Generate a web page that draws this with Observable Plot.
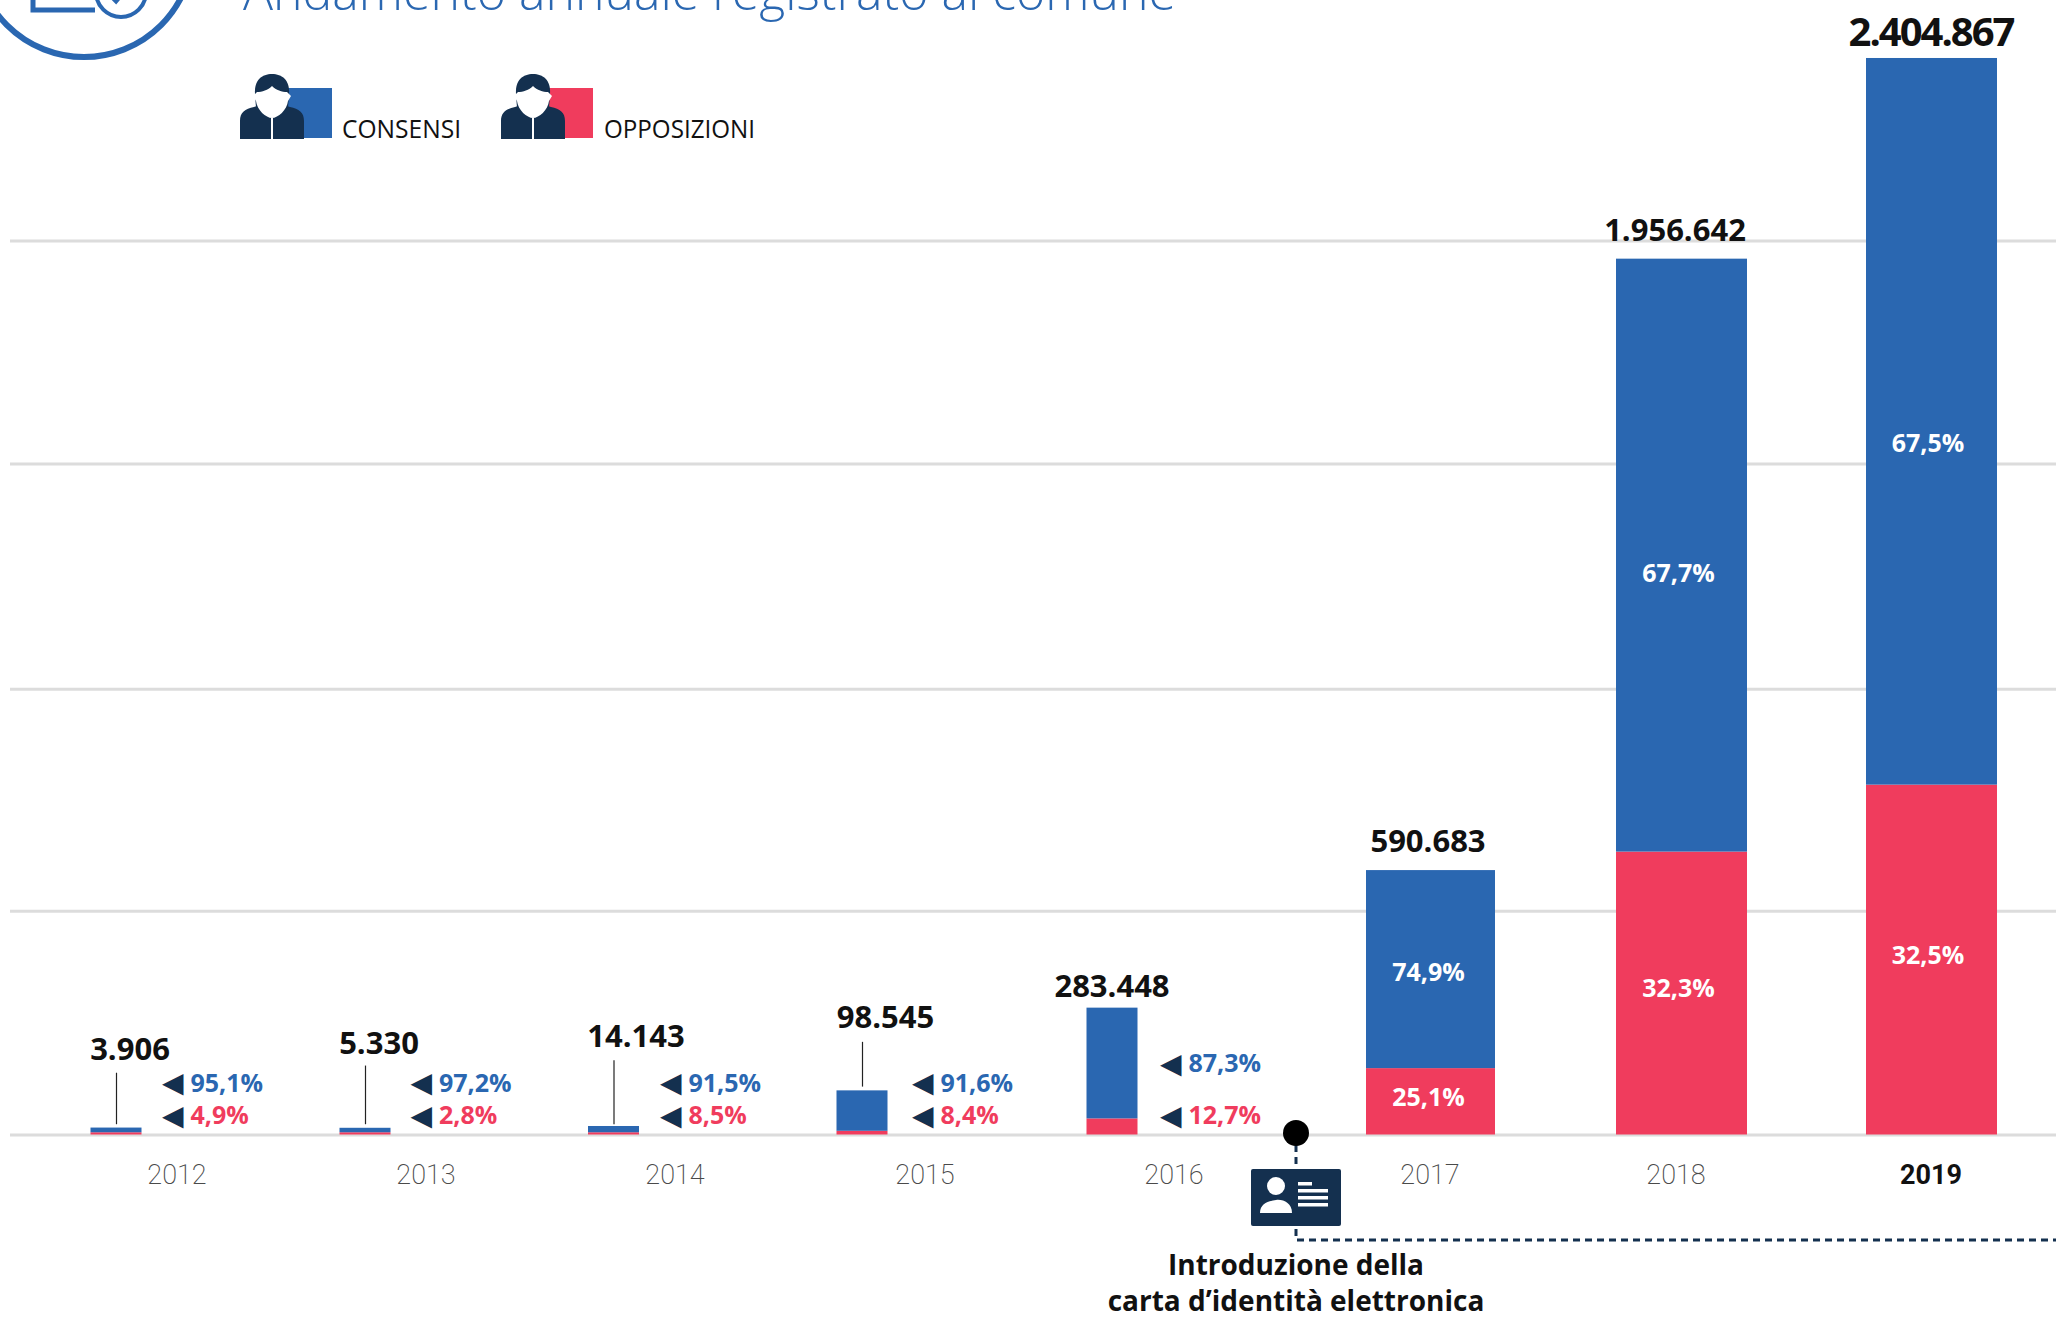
<!DOCTYPE html>
<html lang="it"><head><meta charset="utf-8">
<style>
html,body{margin:0;padding:0;background:#fff;overflow:hidden}
#wrap{position:relative;width:2056px;height:1317px;overflow:hidden}
#title{position:absolute;left:243px;top:-43px;font:300 50px "Open Sans",sans-serif;color:#2a67b1;white-space:nowrap}
svg{display:block}
</style>
<script src="https://cdn.jsdelivr.net/npm/d3@7"></script>
<script src="https://cdn.jsdelivr.net/npm/@observablehq/plot@0.6"></script>
</head><body><div id="wrap"><div id="title">Andamento annuale registrato al comune</div></div>
<script>
const years = ["2012","2013","2014","2015","2016","2017","2018","2019"];
const totals = ["3.906","5.330","14.143","98.545","283.448","590.683","1.956.642","2.404.867"];
const pctConsensi = ["95,1%","97,2%","91,5%","91,6%","87,3%","74,9%","67,7%","67,5%"];
const pctOpposizioni = ["4,9%","2,8%","8,5%","8,4%","12,7%","25,1%","32,3%","32,5%"];
// segment sizes as they are drawn in the picture (the three smallest bars are drawn thicker than their totals)
const consensi = [10500,10000,14000,90300,247400,442400,1324600,1623300];
const opposizioni = [5000,5000,5000,8300,36000,148300,632000,781600];
const totalLevel = [189000,203700,218000,262000,329600,654000,2020000,2462000];
const leaderFrom = [23000,23000,23000,107000];
const leaderTo = [138000,154000,166000,207000];
const consensiLevel = [115000,115000,115000,115000,159000,361000,1254000,1544000];
const opposizioniLevel = [41600,41600,41600,41600,41600,82600,326000,399000];
const gridValues = [0,500000,996000,1499000,1997000];

// layout only: horizontal nudges in pixels, per year
const barDx = [-65.5,-66.5,-68,-69.5,-69.5];
const totalDx = [-52,-53,-46,-46.5,-70,-4,-7,-1];
const pctDx = [8.5,7,6.5,8.5,6.5];
const insideDx = [-3.5,-3.5,-4];
const yearDx = [-5,-6,-7,-7,-8,-2,-6,-1];

const small = d3.range(5), wide = [5,6,7];
const BLUE="#2a67b1", RED="#f03c5d", NAVY="#14304f";
const person = (s)=>`<g transform="${s}">
<path fill="${NAVY}" d="M0 65V47C0 38 5 35 14 33L26 29H38L50 33C59 35 64 38 64 47V65Z"/>
<path fill="${NAVY}" d="M15 20C14 6 22 0 32 0S50 6 49 20L48 34H16Z"/>
<path fill="#fff" d="M17 18C22 18 28 16 32 12 36 16 42 18 47 18L51 22 48 27C47 36 38 44 32 44S17 36 16 27L13 22Z"/>
<rect x="31" y="44" width="2" height="21" fill="#fff"/></g>`;

function decor(index,{x,y}){
  const g=document.createElementNS("http://www.w3.org/2000/svg","g");
  const cx=x("2017")+x.bandwidth()/2-135.5, y0=y(0)-1.5;
  g.innerHTML=`
  <g fill="none" stroke="${BLUE}" stroke-width="6">
    <circle cx="84" cy="-52" r="109"/>
    <path d="M33 -20V10H95" stroke-width="5"/><circle cx="121" cy="-8" r="25" fill="#fff" stroke-width="4"/>
    <path d="M108 -8l8 8l12 -14" />
  </g>
  <rect x="284" y="88" width="48" height="50" fill="${BLUE}"/>
  ${person("translate(240,74)")}
  <rect x="545" y="88" width="48" height="50" fill="${RED}"/>
  ${person("translate(501,74)")}
  <text x="342" y="138" text-anchor="start" font-family="'Open Sans'" font-size="26" fill="#111" textLength="119" lengthAdjust="spacingAndGlyphs">CONSENSI</text>
  <text x="604" y="138" text-anchor="start" font-family="'Open Sans'" font-size="26" fill="#111" textLength="151" lengthAdjust="spacingAndGlyphs">OPPOSIZIONI</text>
  <path d="M${cx} ${y0}V1240H2056" fill="none" stroke="${NAVY}" stroke-width="3" stroke-dasharray="7 5"/>
  <circle cx="${cx}" cy="${y0}" r="13" fill="#000"/>
  <rect x="${cx-45}" y="1169" width="90" height="57" rx="2" fill="${NAVY}"/>
  <g fill="#fff">
    <circle cx="${cx-20}" cy="1186" r="9"/><path d="M${cx-36} 1213c0-10 9-12 16-13s16 3 16 13z"/>
    <rect x="${cx+2}" y="1182" width="14" height="3.5"/><rect x="${cx+2}" y="1189" width="30" height="3.5"/>
    <rect x="${cx+2}" y="1196" width="30" height="3.5"/><rect x="${cx+2}" y="1203" width="30" height="3.5"/>
  </g>
  <g font-family="'Open Sans'" font-weight="700" font-size="28" fill="#111" text-anchor="middle">
    <text x="${cx}" y="1275">Introduzione della</text>
    <text x="${cx}" y="1311">carta d’identità elettronica</text>
  </g>`;
  return g;
}

const chart = Plot.plot({
  width:2056, height:1317,
  marginLeft:10, marginRight:0, marginTop:0, marginBottom:0,
  style:{fontFamily:"Open Sans", background:"transparent", overflow:"visible"},
  x:{type:"band", domain:years, range:[114.5,1998], paddingInner:0.476, paddingOuter:0, axis:null},
  y:{domain:[0,2404867], range:[1134.5,58], axis:null},
  marks:[
    Plot.ruleY(gridValues,{stroke:"#dcdcdc",strokeWidth:3}),
    // wide bars
    wide.map(i=>[
      Plot.barY([i],{x:j=>years[j],y1:()=>0,y2:j=>opposizioni[j],fill:RED,insetRight:i===5?2:0}),
      Plot.barY([i],{x:j=>years[j],y1:j=>opposizioni[j],y2:j=>opposizioni[j]+consensi[j],fill:BLUE,insetRight:i===5?2:0})
    ]),
    // narrow bars
    small.map(i=>[
      Plot.barY([i],{x:j=>years[j],y1:()=>0,y2:j=>opposizioni[j],fill:RED,insetLeft:40,insetRight:40,dx:barDx[i]}),
      Plot.barY([i],{x:j=>years[j],y1:j=>opposizioni[j],y2:j=>opposizioni[j]+consensi[j],fill:BLUE,insetLeft:40,insetRight:40,dx:barDx[i]})
    ]),
    // leaders
    d3.range(4).map(i=>Plot.ruleX([i],{x:j=>years[j],y1:j=>leaderFrom[j],y2:j=>leaderTo[j],stroke:"#222",strokeWidth:1.2,dx:barDx[i]})),
    // totals
    years.map((_,i)=>Plot.text([i],{x:j=>years[j],y:j=>totalLevel[j],text:j=>totals[j],fontSize:i===7?40:31,fontWeight:700,fill:"#111",dx:totalDx[i]})),
    // percent, outside
    small.map(i=>[
      Plot.text([i],{x:j=>years[j],y:j=>consensiLevel[j],text:()=>"◀",fontSize:28,fill:NAVY,textAnchor:"end",dx:pctDx[i]-7,fontFamily:"DejaVu Sans"}),
      Plot.text([i],{x:j=>years[j],y:j=>opposizioniLevel[j],text:()=>"◀",fontSize:28,fill:NAVY,textAnchor:"end",dx:pctDx[i]-7,fontFamily:"DejaVu Sans"}),
      Plot.text([i],{x:j=>years[j],y:j=>consensiLevel[j],text:j=>pctConsensi[j],fontSize:25,fontWeight:700,fill:BLUE,textAnchor:"start",dx:pctDx[i]}),
      Plot.text([i],{x:j=>years[j],y:j=>opposizioniLevel[j],text:j=>pctOpposizioni[j],fontSize:25,fontWeight:700,fill:RED,textAnchor:"start",dx:pctDx[i]})
    ]),
    // percent, inside
    wide.map((i,k)=>[
      Plot.text([i],{x:j=>years[j],y:j=>consensiLevel[j],text:j=>pctConsensi[j],fontSize:25,fontWeight:700,fill:"#fff",dx:insideDx[k]}),
      Plot.text([i],{x:j=>years[j],y:j=>opposizioniLevel[j],text:j=>pctOpposizioni[j],fontSize:25,fontWeight:700,fill:"#fff",dx:insideDx[k]})
    ]),
    // year labels
    years.map((yr,i)=>Plot.text([yr],{x:d=>d,y:()=>0,text:d=>d,dy:40,fontSize:27,fontWeight:i===7?700:200,fontFamily:"Roboto",fill:i===7?"#111":"#4a4a4a",dx:yearDx[i]})),
    decor
  ]
});
for (const t of chart.querySelectorAll("text")) if (t.textContent===totals[7]) t.style.letterSpacing="-2px";
document.getElementById("wrap").prepend(chart);
</script></body></html>
